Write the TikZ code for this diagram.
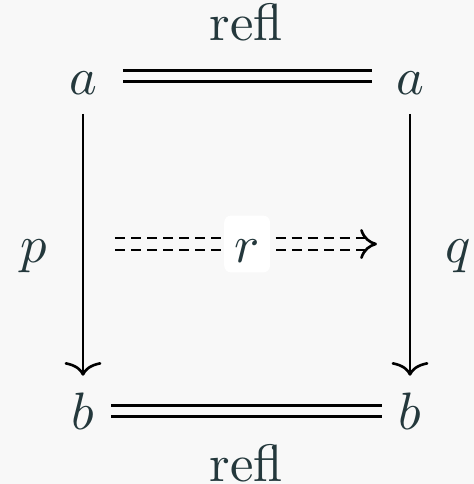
\documentclass[tikz,border=0pt]{standalone}
\usepackage{amsmath}
\usepackage{xcolor}
\usepackage{tikz}
\usetikzlibrary{arrows.meta,positioning,calc}

\definecolor{ink}{HTML}{24383C}
\definecolor{paper}{HTML}{F8F8F8}

\begin{document}
\begin{tikzpicture}[x=0.19pt,y=-0.19pt,
  obj/.style={inner sep=0pt,text height=7.6pt,text depth=0.4pt,text=ink},
  eqline/.style={line width=0.5pt,double=paper,double distance=1.5pt},
  cmto/.style={line width=0.5pt,-{Computer Modern Rightarrow[width=7pt,length=2.6pt]}},
  cmhead/.style={line width=0.5pt,-{Computer Modern Rightarrow[width=5.7pt,length=3.2pt]}},
  dasheq/.style={line width=0.5pt,double=paper,double distance=1.8pt,dash pattern=on 1.9pt off 1.15pt}]
  \fill[paper] (0,0) rectangle (474,484);
  % corners of the square
  \node[obj] (a1) at (83,76) {$a$};
  \node[obj] (a2) at (410,76) {$a$};
  \node[obj] (b1) at (83,411) {$b$};
  \node[obj] (b2) at (410,411) {$b$};
  % sides
  \draw[eqline,shorten <=4.75pt,shorten >=4.4pt] (a1.east) -- node[obj,above=6.1pt] {$\mathrm{refl}$} (a2.west);
  \draw[eqline,shorten <=3pt,shorten >=3pt] (b1.east) -- node[obj,below=5.5pt] {$\mathrm{refl}$} (b2.west);
  \draw[cmto,shorten <=3pt,shorten >=2.5pt] (a1.south) -- node[obj,left=6.5pt] {$p$} (b1.north);
  \draw[cmto,shorten <=3pt,shorten >=2.5pt] (a2.south) -- node[obj,right=6.5pt] {$q$} (b2.north);
  % the 2-cell
  \coordinate (rs) at (115,244);
  \coordinate (rt) at (377,244);
  \draw[dasheq] (rs) -- node[obj,pos=0.52,fill=white,rounded corners=1.3pt,minimum width=8.7pt,minimum height=10.8pt] {$r$} ([xshift=-1.5pt]rt);
  \draw[cmhead] ([xshift=-0.5pt]rt) -- (rt);
\end{tikzpicture}
\end{document}
